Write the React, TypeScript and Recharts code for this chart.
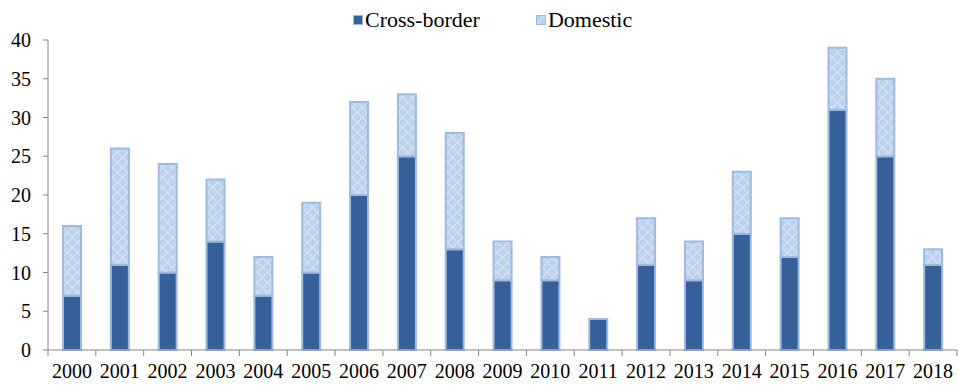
import { BarChart, Bar, XAxis, YAxis } from "recharts";

const years = [
  "2000", "2001", "2002", "2003", "2004", "2005", "2006", "2007", "2008", "2009",
  "2010", "2011", "2012", "2013", "2014", "2015", "2016", "2017", "2018",
];
const crossBorder = [7, 11, 10, 14, 7, 10, 20, 25, 13, 9, 9, 4, 11, 9, 15, 12, 31, 25, 11];
const domestic = [9, 15, 14, 8, 5, 9, 12, 8, 15, 5, 3, 0, 6, 5, 8, 5, 8, 10, 2];
const yTicks = [0, 5, 10, 15, 20, 25, 30, 35, 40];

const data = years.map((year, i) => ({
  year,
  cross: crossBorder[i],
  domestic: domestic[i],
}));

const DARK = "#36609a";
const EDGE = "#9dbbe2";
const AXIS = "#868686";
const FONT = "Liberation Serif";

const CHART_W = 959;
const LEFT = 48;
const RIGHT = 2;
const BAND = (CHART_W - LEFT - RIGHT) / years.length;

// year label centred in its band, tick marks on the band edges
function YearTick(props: any) {
  const { x, y, payload, index } = props;
  const top = y - 8;
  return (
    <g>
      <line x1={x - BAND / 2} y1={top} x2={x - BAND / 2} y2={top + 6} stroke={AXIS} strokeWidth={1} />
      {index === years.length - 1 && (
        <line x1={x + BAND / 2} y1={top} x2={x + BAND / 2} y2={top + 6} stroke={AXIS} strokeWidth={1} />
      )}
      <text x={x} y={top + 28} textAnchor="middle" fontSize={20} style={{ fontFamily: FONT }} fill="#000">
        {payload.value}
      </text>
    </g>
  );
}

// value label, right-aligned a fixed distance from the axis line
function ValueTick(props: any) {
  const { y, payload } = props;
  return (
    <text x={LEFT - 17} y={y} dy={7} textAnchor="end" fontSize={20} style={{ fontFamily: FONT }} fill="#000">
      {payload.value}
    </text>
  );
}

function LegendBox() {
  const item = (fill: string, label: string, gap: number) => (
    <span style={{ display: "inline-flex", alignItems: "center", marginRight: gap }}>
      <svg width={10} height={10} style={{ marginRight: 2 }}>
        <rect x={0.5} y={0.5} width={9} height={9} fill={fill} stroke={EDGE} strokeWidth={1} />
      </svg>
      <span>{label}</span>
    </span>
  );
  return (
    <div
      style={{
        position: "absolute",
        left: 353,
        top: 5,
        whiteSpace: "nowrap",
        fontFamily: FONT,
        fontSize: 22,
        color: "#000",
        lineHeight: "26px",
      }}
    >
      {item(DARK, "Cross-border", 56)}
      {item("url(#bubbles)", "Domestic", 0)}
    </div>
  );
}

export default function App() {
  return (
    <div style={{ position: "absolute", left: 0, top: 0, width: CHART_W, height: 387, background: "#fff" }}>
      <BarChart
        width={CHART_W}
        height={387}
        data={data}
        margin={{ top: 40, right: RIGHT, bottom: 0, left: 0 }}
        barSize={18}
      >
        <defs>
          <pattern id="bubbles" width="10" height="10" patternUnits="userSpaceOnUse">
            <rect width="10" height="10" fill="#ffffff" />
            <rect x="0" y="0" width="5" height="5" fill="#bcd1ec" />
            <rect x="5" y="5" width="5" height="5" fill="#bcd1ec" />
            <circle cx="7.5" cy="2.5" r="2.4" fill="#cfdef2" stroke="#afc7e6" strokeWidth="0.7" />
            <circle cx="2.5" cy="7.5" r="2.4" fill="#cfdef2" stroke="#afc7e6" strokeWidth="0.7" />
          </pattern>
        </defs>
        <XAxis
          dataKey="year"
          axisLine={{ stroke: AXIS }}
          tickLine={false}
          tick={<YearTick />}
          height={37}
          interval={0}
        />
        <YAxis
          domain={[0, 40]}
          ticks={yTicks}
          width={LEFT}
          axisLine={{ stroke: AXIS }}
          tickLine={{ stroke: AXIS }}
          tickSize={5}
          tick={<ValueTick />}
        />
        <Bar dataKey="cross" stackId="a" fill={DARK} stroke={EDGE} strokeWidth={2} isAnimationActive={false} />
        <Bar dataKey="domestic" stackId="a" fill="url(#bubbles)" stroke={EDGE} strokeWidth={2} isAnimationActive={false} />
      </BarChart>
      <LegendBox />
    </div>
  );
}
